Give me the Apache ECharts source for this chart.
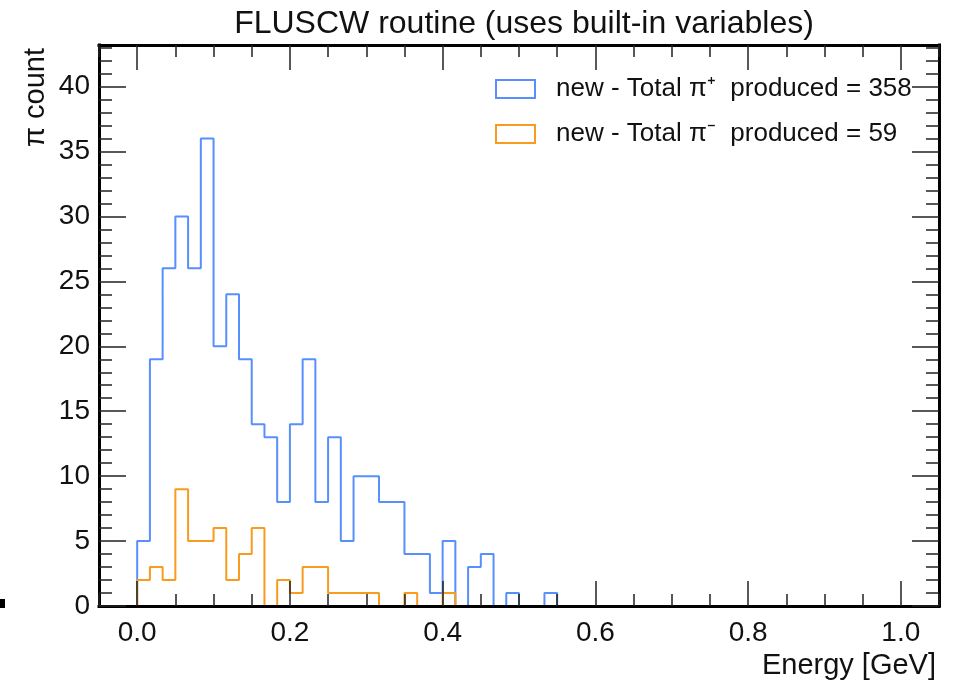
<!DOCTYPE html>
<html>
<head>
<meta charset="utf-8">
<title>FLUSCW routine</title>
<script src="https://cdn.jsdelivr.net/npm/echarts@6/dist/echarts.min.js"></script>
<style>
  html, body { margin: 0; padding: 0; background: #fff; }
  #chart { width: 963px; height: 686px; }
</style>
</head>
<body>
<div id="chart"></div>
<script>
// histogram: 60 equal bins between 0 and 1 GeV
const binLow = 0.0;
const binHigh = 1.0;

const piPlusCounts = [
  5, 19, 26, 30, 26, 36, 20, 24, 19, 14, 13, 8, 14, 19, 8, 13, 5, 10, 10, 8,
  8, 4, 4, 1, 5, 0, 3, 4, 0, 1, 0, 0, 1, 0, 0, 0, 0, 0, 0, 0,
  0, 0, 0, 0, 0, 0, 0, 0, 0, 0, 0, 0, 0, 0, 0, 0, 0, 0, 0, 0
];
const piMinusCounts = [
  2, 3, 2, 9, 5, 5, 6, 2, 4, 6, 0, 2, 1, 3, 3, 1, 1, 1, 1, 0,
  0, 1, 0, 0, 1, 0, 0, 0, 0, 0, 0, 0, 0, 0, 0, 0, 0, 0, 0, 0,
  0, 0, 0, 0, 0, 0, 0, 0, 0, 0, 0, 0, 0, 0, 0, 0, 0, 0, 0, 0
];

const seriesNames = [
  "new - Total π⁺  produced = 358",
  "new - Total π⁻  produced = 59"
];
const seriesColors = ["#5790fc", "#f89c20"];

const xMajorTicks = [0.0, 0.2, 0.4, 0.6, 0.8, 1.0];
const xMinorTicks = [
  -0.05, 0.0, 0.05, 0.1, 0.15, 0.2, 0.25, 0.3, 0.35, 0.4, 0.45, 0.5,
  0.55, 0.6, 0.65, 0.7, 0.75, 0.8, 0.85, 0.9, 0.95, 1.0, 1.05
];
const yMajorTicks = [0, 5, 10, 15, 20, 25, 30, 35, 40];
const yMinorTicks = [
  1, 2, 3, 4, 6, 7, 8, 9, 11, 12, 13, 14, 16, 17, 18, 19, 21, 22, 23, 24,
  26, 27, 28, 29, 31, 32, 33, 34, 36, 37, 38, 39, 41, 42, 43
];

const FONT = "'Liberation Sans', Arial, Helvetica, sans-serif";
const INK = "#111";

function histogramSteps(counts) {
  const w = (binHigh - binLow) / counts.length;
  const pts = [[binLow, 0]];
  counts.forEach((c, i) => pts.push([binLow + i * w, c]));
  pts.push([binHigh, 0]);
  return pts;
}

function frameAxis(position, major, ticks, len, extra) {
  return Object.assign({
    type: "value",
    position: position,
    z: 5,
    axisLine: {
      show: major,
      onZero: false,
      lineStyle: { color: "#000", width: 3, cap: "square" },
    },
    axisTick: {
      show: true,
      inside: true,
      length: len,
      customValues: ticks,
      lineStyle: { color: "#222", width: 1.5 },
    },
    axisLabel: { show: false },
    splitLine: { show: false },
  }, extra);
}

const chart = echarts.init(document.getElementById("chart"));

const xRange = { min: -0.05, max: 1.05 };
const yRange = { min: 0, max: 43.2 };

const xLabel = {
  show: true,
  customValues: xMajorTicks,
  margin: 13,
  fontFamily: FONT,
  fontSize: 28,
  color: INK,
  formatter: (v) => v.toFixed(1),
};
const yLabel = {
  show: true,
  customValues: yMajorTicks,
  margin: 9,
  fontFamily: FONT,
  fontSize: 28,
  color: INK,
};

const option = {
  animation: false,
  backgroundColor: "#fff",
  title: {
    text: "FLUSCW routine (uses built-in variables)",
    left: 519,
    textAlign: "center",
    top: 3,
    textStyle: { fontFamily: FONT, fontSize: 32, fontWeight: "normal", color: INK },
  },
  grid: { left: 99, right: 24, top: 45, bottom: 80 },
  xAxis: [
    frameAxis("bottom", true, xMajorTicks, 25, Object.assign({ axisLabel: xLabel }, xRange)),
    frameAxis("bottom", false, xMinorTicks, 12, xRange),
    frameAxis("top", true, xMajorTicks, 25, xRange),
    frameAxis("top", false, xMinorTicks, 12, xRange),
  ],
  yAxis: [
    frameAxis("left", true, yMajorTicks, 27, Object.assign({ axisLabel: yLabel }, yRange)),
    frameAxis("left", false, yMinorTicks, 13, yRange),
    frameAxis("right", true, yMajorTicks, 27, yRange),
    frameAxis("right", false, yMinorTicks, 13, yRange),
  ],
  legend: {
    orient: "vertical",
    left: 495,
    top: 76,
    padding: 0,
    itemWidth: 39,
    itemHeight: 18,
    itemGap: 19,
    data: seriesNames.map((n, i) => ({
      name: n,
      icon: "rect",
      itemStyle: { color: "rgba(0,0,0,0)", borderColor: seriesColors[i], borderWidth: 2 },
    })),
    textStyle: { fontFamily: FONT, fontSize: 26, color: INK, padding: [0, 0, 0, 16] },
  },
  graphic: [
    {
      type: "text",
      x: 36,
      y: 48,
      rotation: Math.PI / 2,
      style: {
        text: "π count",
        font: "29px " + FONT,
        fill: INK,
        align: "right",
        verticalAlign: "middle",
      },
    },
    {
      type: "text",
      x: 936,
      y: 666,
      style: {
        text: "Energy [GeV]",
        font: "29px " + FONT,
        fill: INK,
        align: "right",
        verticalAlign: "middle",
      },
    },
    {
      type: "rect",
      shape: { x: 0, y: 599, width: 5, height: 9 },
      style: { fill: "#000" },
    },
  ],
  series: [piPlusCounts, piMinusCounts].map((counts, i) => ({
    name: seriesNames[i],
    type: "line",
    step: "end",
    xAxisIndex: 0,
    yAxisIndex: 0,
    showSymbol: false,
    color: seriesColors[i],
    lineStyle: { color: seriesColors[i], width: 2 },
    data: histogramSteps(counts),
  })),
};

chart.setOption(option);
</script>
</body>
</html>
